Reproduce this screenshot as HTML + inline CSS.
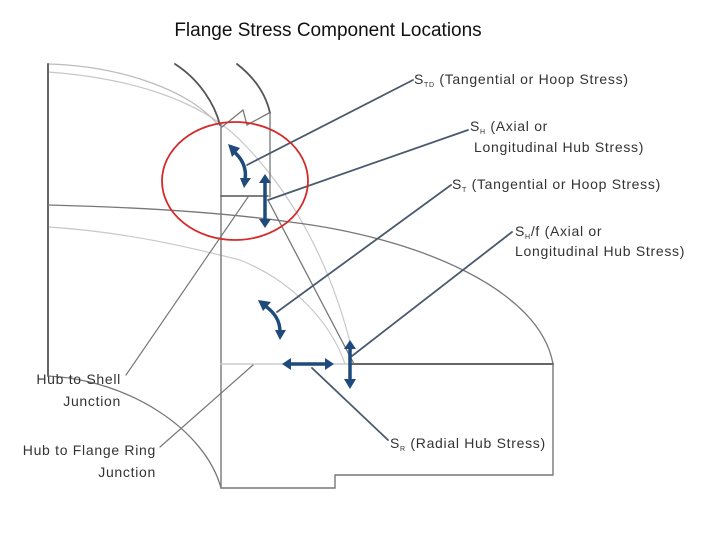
<!DOCTYPE html>
<html><head><meta charset="utf-8"><style>
html,body{margin:0;padding:0;background:#fff;}
svg{display:block;}
text{font-family:"Liberation Sans",sans-serif;fill:#333;}
.l{font-size:14px;letter-spacing:0.7px;}
</style></head><body>
<svg width="715" height="534" viewBox="0 0 715 534" xmlns="http://www.w3.org/2000/svg">
<text x="328" y="36" text-anchor="middle" style="font-size:19px;fill:#111">Flange Stress Component Locations</text>
<g fill="none" stroke-linecap="round">
<path d="M48,72 C130,78 200,100 240,140 C290,190 330,260 352,350" stroke="#c8c8c8" stroke-width="1.2"/>
<path d="M48,227 C130,232 200,250 240,260 C290,280 330,320 345,364" stroke="#c8c8c8" stroke-width="1.2"/>
<path d="M48,64 C120,66 190,90 218,125" stroke="#bbb" stroke-width="1.2"/>
<path d="M48,64 L48,376" stroke="#666" stroke-width="2"/>
<path d="M175,64 C200,80 215,105 220,125" stroke="#555" stroke-width="1.8"/>
<path d="M237,64 C255,78 266,95 270,113" stroke="#555" stroke-width="1.8"/>
<path d="M222,127 L243,110 L247,125 L269,113" stroke="#777" stroke-width="1.3"/>
<path d="M221,125 L221,488 L335,488 L335,475 L553,475 L553,364" stroke="#777" stroke-width="1.4"/>
<path d="M270,113 L270,197" stroke="#777" stroke-width="1.3"/>
<path d="M221,196 L268,196" stroke="#555" stroke-width="1.6"/>
<path d="M268,200 L354,364" stroke="#777" stroke-width="1.3"/>
<path d="M48,205 C130,207 220,212 290,222 C420,238 540,290 553,364" stroke="#777" stroke-width="1.3"/>
<path d="M48,376 C130,380 205,430 221,488" stroke="#777" stroke-width="1.3"/>
<path d="M221,364 L350,364" stroke="#ccc" stroke-width="1.5"/>
<path d="M350,364 L553,364" stroke="#666" stroke-width="2"/>
<path d="M413,80 L247,165" stroke="#4b5a6e" stroke-width="1.8"/>
<path d="M468,130 L268,200" stroke="#4b5a6e" stroke-width="1.8"/>
<path d="M451,185 L277,312" stroke="#4b5a6e" stroke-width="1.8"/>
<path d="M512,232 L352,356" stroke="#4b5a6e" stroke-width="1.8"/>
<path d="M388,440 L312,368" stroke="#4b5a6e" stroke-width="1.8"/>
<path d="M126,375 L248,197" stroke="#777" stroke-width="1.2"/>
<path d="M160,447 L253,365" stroke="#777" stroke-width="1.2"/>
<ellipse cx="235" cy="181" rx="73" ry="59" stroke="#d42a2a" stroke-width="1.8"/>
</g>
<g stroke="#1f4a7c" stroke-width="3.5" fill="#1f4a7c" stroke-linecap="butt">
<path d="M232,150 C242,158 247,168 245,180" fill="none"/>
<polygon points="228,144 240,148 232,157" stroke="none"/>
<polygon points="240,178 251,178 244,188" stroke="none"/>
<line x1="265" y1="182" x2="265" y2="220"/>
<polygon points="259,183 271,183 265,174" stroke="none"/>
<polygon points="259,219 271,219 265,228" stroke="none"/>
<path d="M264,305 C274,312 280,320 280,332" fill="none"/>
<polygon points="258,300 271,302 263,311" stroke="none"/>
<polygon points="275,330 286,330 280,340" stroke="none"/>
<line x1="290" y1="364" x2="326" y2="364"/>
<polygon points="291,358 291,370 282,364" stroke="none"/>
<polygon points="325,358 325,370 334,364" stroke="none"/>
<line x1="350" y1="348" x2="350" y2="380"/>
<polygon points="344,349 356,349 350,340" stroke="none"/>
<polygon points="344,379 356,379 350,389" stroke="none"/>
</g>
<text class="l" x="414" y="84">S<tspan font-size="7" dy="3">TD</tspan><tspan dy="-3"> (Tangential or Hoop Stress)</tspan></text>
<text class="l" x="470" y="131">S<tspan font-size="7" dy="3">H</tspan><tspan dy="-3"> (Axial or</tspan></text>
<text class="l" x="474" y="152">Longitudinal Hub Stress)</text>
<text class="l" x="452" y="189">S<tspan font-size="7" dy="3">T</tspan><tspan dy="-3"> (Tangential or Hoop Stress)</tspan></text>
<text class="l" x="515" y="236">S<tspan font-size="7" dy="3">H</tspan><tspan dy="-3">/f (Axial or</tspan></text>
<text class="l" x="515" y="256">Longitudinal Hub Stress)</text>
<text class="l" x="390" y="448">S<tspan font-size="7" dy="3">R</tspan><tspan dy="-3"> (Radial Hub Stress)</tspan></text>
<text class="l" x="121" y="384" text-anchor="end">Hub to Shell</text>
<text class="l" x="121" y="406" text-anchor="end">Junction</text>
<text class="l" x="156" y="455" text-anchor="end">Hub to Flange Ring</text>
<text class="l" x="156" y="477" text-anchor="end">Junction</text>
</svg>
</body></html>
